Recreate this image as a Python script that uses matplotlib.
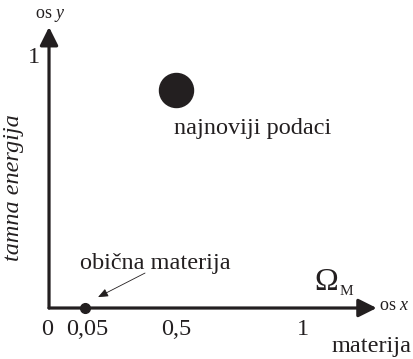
import matplotlib
matplotlib.use('Agg')
import matplotlib.pyplot as plt

plt.rcParams['font.family'] = 'Liberation Serif'
plt.rcParams['mathtext.fontset'] = 'custom'
plt.rcParams['mathtext.rm'] = 'Liberation Serif'
plt.rcParams['mathtext.it'] = 'Liberation Serif:italic'

ink = '#231f20'

# schematic axis ticks (positions as drawn in the picture)
x_ticks = [0.0, 0.142, 0.5, 1.0]
x_tick_labels = ['0', '0,05', '0,5', '1']
y_ticks = [1.0]
y_tick_labels = ['1']

# data points
newest_x, newest_y = [0.5], [0.879]
ordinary_x, ordinary_y = [0.142], [0.0]

fig = plt.figure(figsize=(4.13, 3.59), dpi=100)
ax = fig.add_axes([0, 0, 1, 1])
ax.set_xlim(-0.193, 1.433)
ax.set_ylim(-0.2056, 1.242)
ax.axis('off')

# axes with arrowheads
arrow = dict(arrowstyle='-|>,head_length=1.1,head_width=0.55', lw=2.3, color=ink,
             mutation_scale=10, shrinkA=0, shrinkB=0)
ax.annotate('', xy=(1.29, 0), xytext=(0, 0), arrowprops=arrow)
ax.annotate('', xy=(0, 1.133), xytext=(0, 0), arrowprops=arrow)
ax.text(1.358, 0.01, 'os $x$', fontsize=13, color=ink, ha='center', va='center')
ax.text(0.004, 1.18, 'os $y$', fontsize=13, color=ink, ha='center', va='center')

# tick labels
for xt, lab in zip(x_ticks, x_tick_labels):
    xx = xt - 0.008 if lab == '0' else xt + 0.01 * (lab == '0,05')
    ax.text(xx, -0.085, lab, fontsize=17.5, color=ink, ha='center', va='center')
for yt, lab in zip(y_ticks, y_tick_labels):
    ax.text(-0.06, yt + 0.01, lab, fontsize=17.5, color=ink, ha='center', va='center')

# axis titles
ax.text(1.27, -0.157, 'materija', fontsize=17.5, color=ink, ha='center', va='center')
ax.text(-0.138, 0.487, 'tamna energija', fontsize=17.5, color=ink, style='italic',
        rotation=90, ha='center', va='center')
ax.text(1.09, 0.073, '\u03a9', fontsize=23, color=ink, ha='center', va='baseline')
ax.text(1.172, 0.052, 'M', fontsize=11, color=ink, ha='center', va='baseline')

# points
ax.plot(newest_x, newest_y, 'o', ms=24.5, color=ink)
ax.text(0.8, 0.722, 'najnoviji podaci', fontsize=17.5, color=ink, ha='center', va='center')

ax.plot(ordinary_x, ordinary_y, 'o', ms=7, color=ink, zorder=5)
ax.text(0.42, 0.18, 'obična materija', fontsize=17.5, color=ink, ha='center', va='center')
ax.annotate('', xy=(0.193, 0.044), xytext=(0.378, 0.141),
            arrowprops=dict(arrowstyle='-|>,head_length=0.6,head_width=0.25', lw=0.6,
                            color=ink, mutation_scale=10, shrinkA=0, shrinkB=0))

fig.savefig('out.png', dpi=100)
